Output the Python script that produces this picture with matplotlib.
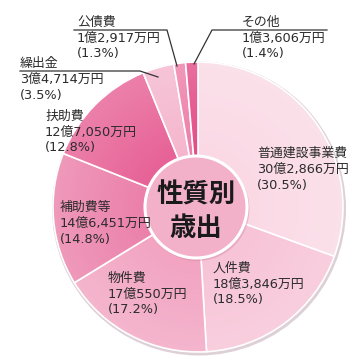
import matplotlib
matplotlib.use("Agg")
import matplotlib.pyplot as plt
import numpy as np
from matplotlib.patches import Circle

plt.rcParams['font.family'] = ['Noto Sans CJK JP', 'DejaVu Sans']

categories = ['普通建設事業費', '人件費', '物件費', '補助費等', '扶助費', '繰出金', '公債費', 'その他']
values_man = [302866, 183846, 170550, 146451, 127050, 34714, 12917, 13606]
amount_labels = ['30億2,866万円', '18億3,846万円', '17億550万円', '14億6,451万円',
                 '12億7,050万円', '3億4,714万円', '1億2,917万円', '1億3,606万円']
pct_labels = ['(30.5%)', '(18.5%)', '(17.2%)', '(14.8%)', '(12.8%)', '(3.5%)', '(1.3%)', '(1.4%)']
colors = ['#fad9e5', '#f7c3d6', '#f2a3c1', '#eb80aa', '#e76196', '#f5b6cd', '#ed7ea9', '#e34b86']
center_title = ['性質別', '歳出']

W, H = 355, 362
fig = plt.figure(figsize=(W / 100, H / 100), dpi=100)
ax = fig.add_axes([0, 0, 1, 1])

def Y(y):
    return H - y

cx, cy, R = 198, Y(207), 145

# soft shadow behind pie
ax.add_patch(Circle((cx + 1, cy - 1.5), R + 2, facecolor='#ddd0d6', edgecolor='none', zorder=0))
wedges, _ = ax.pie(values_man, colors=colors, startangle=90, counterclock=False,
                   center=(cx, cy), radius=R, frame=True,
                   wedgeprops=dict(edgecolor='white', linewidth=1.2))

# radial lightening toward the rim
n = 300
gx, gy = np.meshgrid(np.linspace(-1, 1, n), np.linspace(-1, 1, n))
rr = np.sqrt(gx ** 2 + gy ** 2)
alpha = np.clip((rr - 0.35) / 0.65, 0, 1) * 0.2
img = np.ones((n, n, 4))
img[..., 3] = alpha
im = ax.imshow(img, extent=[cx - R, cx + R, cy - R, cy + R], origin='lower',
               interpolation='bilinear', zorder=2)
clip = Circle((cx, cy), R, transform=ax.transData)
im.set_clip_path(clip)

ax.set_xlim(0, W)
ax.set_ylim(0, H)
ax.set_aspect('auto')
ax.axis('off')

# center circle
ccx, ccy, cr = 196, Y(207), 51
ax.add_patch(Circle((ccx + 1.5, ccy - 2), cr + 1, facecolor='#c9809c', edgecolor='none', alpha=0.35, zorder=3))
ax.add_patch(Circle((ccx, ccy), cr, facecolor='#f3b1c9', edgecolor='white', linewidth=2.2, zorder=4))
ax.text(ccx, Y(195), center_title[0], ha='center', va='center', fontsize=19,
        fontweight='bold', color='#1a1a1a', zorder=5)
ax.text(ccx, Y(228), center_title[1], ha='center', va='center', fontsize=19,
        fontweight='bold', color='#1a1a1a', zorder=5)

# label positions (left x, first-line center y) in pixels
label_pos = [(257, 153), (213, 268), (108, 278), (60, 207), (45, 116), (20, 63), (77, 22), (242, 22)]
step = 16
for i, (lx, ly) in enumerate(label_pos):
    for j, s in enumerate([categories[i], amount_labels[i], pct_labels[i]]):
        fam = ['Noto Sans CJK JP', 'DejaVu Sans'] if j == 0 else ['DejaVu Sans', 'Noto Sans CJK JP']
        ax.text(lx, Y(ly + j * step), s, ha='left', va='center', fontsize=9.3,
                family=fam, color='#2b2b2b', zorder=6)

# leader lines
lines = [
    [(74, 30), (167, 30), (177, 66)],     # 公債費
    [(327, 30), (212, 30), (194, 64)],    # その他
    [(20, 71), (140, 71), (158, 77)],     # 繰出金
]
for pts in lines:
    xs = [p[0] for p in pts]
    ys = [Y(p[1]) for p in pts]
    ax.plot(xs, ys, color='#333333', linewidth=0.9, zorder=6)

fig.savefig('out.png', dpi=100)
